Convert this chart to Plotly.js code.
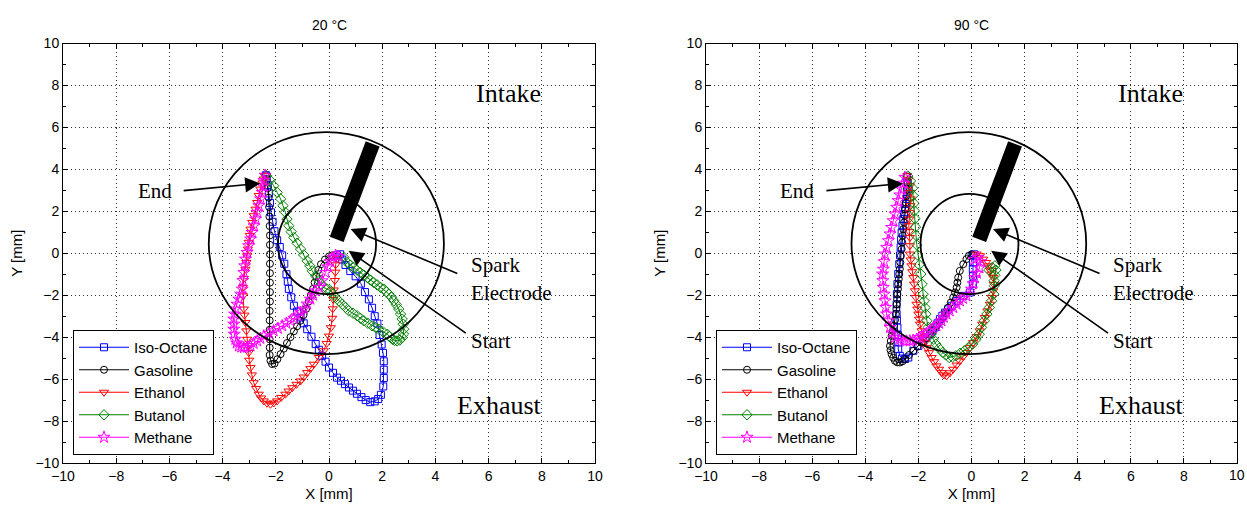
<!DOCTYPE html>
<html>
<head>
<meta charset="utf-8">
<script src="https://cdn.plot.ly/plotly-3.0.1.min.js"></script>
<style>html,body{margin:0;padding:0;background:#fff;overflow:hidden}#chart{width:1247px;height:505px}</style>
</head>
<body>
<div id="chart"></div>
<script>
// ---------- data ----------
const SERIES = ['Iso-Octane', 'Gasoline', 'Ethanol', 'Butanol', 'Methane'];
const PANEL_TITLES = ['20 °C', '90 °C'];
const TICKS = [-10, -8, -6, -4, -2, 0, 2, 4, 6, 8, 10];

// 20 °C panel (x, y in mm), start -> end
const L_ISO = [[0.30,-0.10],[0.42,-0.05],[0.50,-0.30],[0.62,-0.56],[0.80,-0.85],[1.00,-1.10],[1.20,-1.45],[1.35,-1.85],[1.50,-2.20],[1.62,-2.60],[1.72,-3.00],[1.82,-3.35],[1.90,-3.90],[1.98,-4.35],[2.03,-4.75],[2.06,-5.15],[2.06,-5.55],[2.06,-5.95],[2.04,-6.35],[1.95,-6.75],[1.85,-6.95],[1.72,-7.06],[1.55,-7.10],[1.38,-7.00],[1.22,-6.86],[1.05,-6.70],[0.90,-6.55],[0.75,-6.40],[0.60,-6.24],[0.45,-6.08],[0.30,-5.93],[0.15,-5.70],[0.00,-5.45],[-0.13,-5.17],[-0.26,-4.89],[-0.38,-4.60],[-0.50,-4.33],[-0.66,-3.98],[-0.82,-3.62],[-0.95,-3.34],[-1.07,-3.06],[-1.20,-2.78],[-1.32,-2.50],[-1.42,-2.10],[-1.51,-1.70],[-1.55,-1.35],[-1.60,-1.00],[-1.68,-0.50],[-1.76,-0.10],[-1.85,0.30],[-1.95,0.62],[-2.05,1.05],[-2.12,1.50],[-2.18,1.95],[-2.22,2.40],[-2.26,2.85],[-2.30,3.25],[-2.34,3.55],[-2.37,3.72]];
const L_GAS = [[0.12,-0.10],[0.00,-0.15],[-0.15,-0.30],[-0.30,-0.52],[-0.40,-0.80],[-0.48,-1.10],[-0.54,-1.40],[-0.60,-1.70],[-0.68,-2.00],[-0.76,-2.30],[-0.86,-2.65],[-0.96,-2.95],[-1.08,-3.22],[-1.20,-3.48],[-1.32,-3.72],[-1.45,-4.00],[-1.58,-4.28],[-1.70,-4.55],[-1.82,-4.81],[-1.94,-5.05],[-2.05,-5.26],[-2.14,-5.28],[-2.20,-5.12],[-2.23,-4.85],[-2.23,-4.50],[-2.23,-4.10],[-2.23,-3.65],[-2.23,-3.20],[-2.23,-2.75],[-2.22,-2.30],[-2.22,-1.85],[-2.22,-1.40],[-2.22,-0.95],[-2.22,-0.50],[-2.22,-0.05],[-2.22,0.40],[-2.22,0.85],[-2.23,1.30],[-2.24,1.75],[-2.25,2.20],[-2.27,2.65],[-2.30,3.10],[-2.34,3.45],[-2.37,3.72]];
const L_ETH = [[0.30,-0.25],[0.25,-0.55],[0.24,-0.90],[0.22,-1.30],[0.18,-1.75],[0.16,-2.20],[0.14,-2.65],[0.12,-3.10],[0.07,-3.55],[0.00,-3.95],[-0.09,-4.30],[-0.20,-4.65],[-0.38,-4.97],[-0.57,-5.29],[-0.70,-5.50],[-0.82,-5.69],[-0.95,-5.90],[-1.07,-6.09],[-1.22,-6.25],[-1.38,-6.41],[-1.52,-6.57],[-1.64,-6.72],[-1.80,-6.88],[-1.95,-7.04],[-2.08,-7.14],[-2.20,-7.20],[-2.33,-7.15],[-2.45,-7.04],[-2.55,-6.90],[-2.64,-6.72],[-2.74,-6.45],[-2.83,-6.17],[-2.90,-5.80],[-2.95,-5.45],[-3.00,-5.10],[-3.02,-4.73],[-3.05,-4.40],[-3.08,-4.10],[-3.11,-3.70],[-3.14,-3.30],[-3.18,-2.95],[-3.20,-2.66],[-3.23,-2.03],[-3.24,-1.63],[-3.20,-1.20],[-3.14,-0.76],[-3.11,-0.44],[-3.08,-0.12],[-3.05,0.20],[-3.02,0.52],[-2.98,0.85],[-2.95,1.15],[-2.89,1.47],[-2.83,1.79],[-2.76,2.10],[-2.70,2.42],[-2.64,2.75],[-2.58,3.06],[-2.50,3.35],[-2.45,3.54],[-2.40,3.70]];
const L_BUT = [[0.56,-0.20],[0.68,-0.44],[0.80,-0.56],[0.93,-0.68],[1.05,-0.80],[1.18,-0.92],[1.31,-1.04],[1.44,-1.16],[1.56,-1.28],[1.68,-1.39],[1.81,-1.51],[1.94,-1.63],[2.06,-1.71],[2.15,-1.83],[2.25,-1.95],[2.35,-2.10],[2.44,-2.27],[2.53,-2.45],[2.62,-2.66],[2.69,-2.90],[2.75,-3.14],[2.79,-3.38],[2.81,-3.62],[2.80,-3.85],[2.75,-4.02],[2.66,-4.14],[2.56,-4.18],[2.47,-4.16],[2.38,-4.10],[2.28,-3.98],[2.19,-3.86],[2.03,-3.74],[1.87,-3.62],[1.75,-3.54],[1.62,-3.46],[1.46,-3.34],[1.31,-3.22],[1.18,-3.10],[1.06,-2.98],[0.90,-2.86],[0.74,-2.74],[0.62,-2.58],[0.50,-2.43],[0.37,-2.27],[0.24,-2.11],[0.15,-1.95],[0.06,-1.79],[-0.07,-1.71],[-0.20,-1.63],[-0.29,-1.47],[-0.38,-1.31],[-0.50,-1.08],[-0.63,-0.84],[-0.72,-0.60],[-0.82,-0.36],[-0.95,-0.08],[-1.07,0.20],[-1.20,0.48],[-1.32,0.75],[-1.42,1.03],[-1.51,1.31],[-1.58,1.63],[-1.64,1.95],[-1.73,2.27],[-1.82,2.59],[-1.95,2.90],[-2.08,3.22],[-2.22,3.48],[-2.35,3.70]];
const L_MET = [[0.35,-0.15],[0.25,-0.10],[0.15,-0.20],[0.05,-0.40],[-0.05,-0.65],[-0.13,-0.92],[-0.26,-1.31],[-0.38,-1.63],[-0.51,-1.79],[-0.60,-2.00],[-0.70,-2.19],[-0.82,-2.42],[-0.95,-2.66],[-1.07,-2.82],[-1.20,-2.98],[-1.32,-3.10],[-1.45,-3.22],[-1.60,-3.34],[-1.76,-3.46],[-1.92,-3.58],[-2.08,-3.70],[-2.26,-3.82],[-2.45,-3.94],[-2.58,-4.06],[-2.70,-4.18],[-2.83,-4.30],[-2.95,-4.42],[-3.08,-4.48],[-3.20,-4.50],[-3.30,-4.47],[-3.39,-4.42],[-3.47,-4.28],[-3.52,-4.10],[-3.56,-3.86],[-3.58,-3.62],[-3.58,-3.38],[-3.58,-3.14],[-3.55,-2.90],[-3.52,-2.66],[-3.46,-2.43],[-3.39,-2.19],[-3.32,-1.95],[-3.26,-1.71],[-3.24,-1.30],[-3.20,-0.92],[-3.17,-0.60],[-3.14,-0.28],[-3.08,0.04],[-3.02,0.36],[-2.95,0.68],[-2.89,0.99],[-2.82,1.31],[-2.76,1.63],[-2.70,1.95],[-2.64,2.27],[-2.57,2.59],[-2.51,2.90],[-2.48,3.20],[-2.45,3.46],[-2.40,3.72]];

// 90 °C panel
const R_ISO = [[0.10,-0.05],[0.06,-0.12],[0.06,-0.44],[0.05,-0.76],[0.06,-1.07],[0.05,-1.47],[-0.06,-1.87],[-0.31,-2.03],[-0.56,-2.27],[-0.75,-2.51],[-0.88,-2.67],[-1.00,-2.83],[-1.10,-2.98],[-1.19,-3.14],[-1.28,-3.34],[-1.38,-3.54],[-1.48,-3.70],[-1.57,-3.86],[-1.70,-4.02],[-1.82,-4.18],[-2.00,-4.42],[-2.19,-4.65],[-2.38,-4.97],[-2.50,-5.04],[-2.62,-5.02],[-2.70,-4.89],[-2.76,-4.57],[-2.76,-4.25],[-2.77,-3.90],[-2.79,-3.54],[-2.81,-3.20],[-2.82,-2.90],[-2.82,-2.43],[-2.81,-1.95],[-2.79,-1.47],[-2.76,-0.99],[-2.72,-0.52],[-2.69,-0.10],[-2.67,0.28],[-2.65,0.64],[-2.63,0.99],[-2.60,1.31],[-2.57,1.63],[-2.54,1.87],[-2.51,2.11],[-2.47,2.35],[-2.44,2.59],[-2.41,2.83],[-2.38,3.06],[-2.40,3.35],[-2.43,3.65]];
const R_GAS = [[0.00,-0.05],[-0.10,-0.12],[-0.19,-0.28],[-0.31,-0.52],[-0.44,-0.84],[-0.50,-1.16],[-0.53,-1.40],[-0.56,-1.63],[-0.62,-1.87],[-0.69,-2.11],[-0.78,-2.35],[-0.88,-2.59],[-0.97,-2.83],[-1.06,-3.06],[-1.19,-3.26],[-1.32,-3.46],[-1.45,-3.66],[-1.57,-3.86],[-1.72,-4.06],[-1.88,-4.26],[-2.04,-4.46],[-2.19,-4.65],[-2.35,-4.85],[-2.51,-5.05],[-2.60,-5.15],[-2.70,-5.21],[-2.80,-5.20],[-2.88,-5.13],[-2.95,-4.98],[-3.01,-4.81],[-3.05,-4.62],[-3.07,-4.42],[-3.04,-4.18],[-3.01,-3.94],[-2.96,-3.70],[-2.92,-3.46],[-2.88,-3.18],[-2.85,-2.90],[-2.83,-2.66],[-2.82,-2.43],[-2.80,-2.19],[-2.79,-1.95],[-2.77,-1.71],[-2.76,-1.47],[-2.74,-1.23],[-2.72,-0.99],[-2.70,-0.76],[-2.68,-0.44],[-2.66,-0.12],[-2.63,0.20],[-2.61,0.52],[-2.59,0.84],[-2.57,1.15],[-2.54,1.47],[-2.51,1.79],[-2.49,2.10],[-2.47,2.42],[-2.45,2.74],[-2.44,3.06],[-2.43,3.38],[-2.43,3.65]];
const R_ETH = [[0.19,-0.04],[0.32,-0.12],[0.44,-0.28],[0.55,-0.44],[0.63,-0.60],[0.70,-0.80],[0.75,-0.99],[0.82,-1.16],[0.84,-1.48],[0.82,-1.79],[0.76,-2.11],[0.69,-2.43],[0.60,-2.75],[0.50,-3.06],[0.40,-3.38],[0.31,-3.70],[0.19,-3.98],[0.06,-4.26],[-0.06,-4.50],[-0.19,-4.73],[-0.31,-4.93],[-0.44,-5.13],[-0.56,-5.33],[-0.69,-5.53],[-0.81,-5.70],[-0.94,-5.85],[-1.04,-5.80],[-1.13,-5.69],[-1.22,-5.53],[-1.32,-5.37],[-1.41,-5.17],[-1.50,-4.97],[-1.60,-4.74],[-1.69,-4.50],[-1.76,-4.26],[-1.82,-4.02],[-1.88,-3.70],[-1.94,-3.38],[-1.97,-3.14],[-2.00,-2.90],[-2.04,-2.66],[-2.07,-2.43],[-2.10,-2.11],[-2.13,-1.79],[-2.16,-1.47],[-2.19,-1.16],[-2.23,-0.88],[-2.26,-0.60],[-2.29,-0.32],[-2.32,-0.04],[-2.32,0.36],[-2.32,0.75],[-2.34,1.03],[-2.36,1.31],[-2.34,1.63],[-2.32,1.95],[-2.30,2.27],[-2.29,2.59],[-2.30,2.90],[-2.32,3.22],[-2.38,3.50],[-2.42,3.70]];
const R_BUT = [[0.65,-0.80],[0.78,-0.68],[0.88,-0.60],[0.92,-0.80],[0.88,-1.05],[0.85,-1.31],[0.86,-1.55],[0.84,-1.95],[0.76,-2.27],[0.67,-2.59],[0.58,-2.90],[0.48,-3.22],[0.38,-3.54],[0.29,-3.86],[0.17,-4.10],[0.04,-4.33],[-0.12,-4.50],[-0.27,-4.65],[-0.43,-4.77],[-0.59,-4.89],[-0.72,-4.95],[-0.84,-4.97],[-0.97,-4.85],[-1.09,-4.73],[-1.22,-4.53],[-1.34,-4.33],[-1.44,-4.10],[-1.53,-3.86],[-1.63,-3.54],[-1.68,-3.22],[-1.72,-2.90],[-1.75,-2.59],[-1.78,-2.27],[-1.82,-1.95],[-1.86,-1.47],[-1.91,-0.99],[-1.97,-0.55],[-2.03,-0.08],[-2.06,0.40],[-2.09,0.85],[-2.11,1.25],[-2.13,1.65],[-2.15,2.02],[-2.17,2.38],[-2.20,2.75],[-2.22,3.10],[-2.30,3.45],[-2.40,3.68]];
const R_MET = [[0.10,-0.30],[0.25,-0.20],[0.35,-0.40],[0.30,-0.70],[0.20,-0.95],[0.12,-1.16],[0.06,-1.45],[0.00,-1.71],[-0.19,-2.03],[-0.32,-2.15],[-0.44,-2.27],[-0.56,-2.43],[-0.69,-2.59],[-0.82,-2.75],[-0.94,-2.90],[-1.04,-3.06],[-1.13,-3.22],[-1.22,-3.34],[-1.32,-3.46],[-1.45,-3.58],[-1.57,-3.70],[-1.70,-3.82],[-1.82,-3.94],[-1.95,-4.02],[-2.07,-4.10],[-2.20,-4.15],[-2.32,-4.18],[-2.45,-4.19],[-2.57,-4.18],[-2.72,-4.12],[-2.88,-4.02],[-2.98,-3.80],[-3.07,-3.54],[-3.14,-3.22],[-3.20,-2.90],[-3.23,-2.58],[-3.26,-2.27],[-3.29,-1.95],[-3.32,-1.63],[-3.34,-1.31],[-3.35,-0.99],[-3.32,-0.76],[-3.29,-0.40],[-3.26,-0.04],[-3.20,0.28],[-3.13,0.60],[-3.07,0.92],[-3.01,1.23],[-2.95,1.55],[-2.88,1.87],[-2.82,2.19],[-2.76,2.51],[-2.70,2.78],[-2.63,3.06],[-2.57,3.34],[-2.51,3.62]];

const LEFT_DATA = [L_ISO, L_GAS, L_ETH, L_BUT, L_MET];
const RIGHT_DATA = [R_ISO, R_GAS, R_ETH, R_BUT, R_MET];

// ---------- styles ----------
const COLORS = ['#0000ff', '#000000', '#ff0000', '#008000', '#ff00ff'];
const SYMBOLS = ['square-open', 'circle-open', 'triangle-down-open', 'diamond-open', 'star-open'];
const SIZES = [7, 7, 8, 8, 9];
const SANS = 'Liberation Sans, Arial, sans-serif';
const SERIF = 'Liberation Serif, Times New Roman, serif';

const traces = [];
[LEFT_DATA, RIGHT_DATA].forEach((panel, p) => {
  panel.forEach((pts, i) => {
    traces.push({
      type: 'scatter', mode: 'lines+markers', name: SERIES[i],
      x: pts.map(d => d[0]), y: pts.map(d => d[1]),
      xaxis: p === 0 ? 'x' : 'x2', yaxis: p === 0 ? 'y' : 'y2',
      legend: p === 0 ? 'legend' : 'legend2',
      line: {color: COLORS[i], width: 1},
      marker: {symbol: SYMBOLS[i], size: SIZES[i], color: COLORS[i], line: {color: COLORS[i], width: 1}}
    });
  });
});

function axis(domain, anchor) {
  return {
    domain: domain, anchor: anchor, range: [-10, 10], tickvals: TICKS,
    showline: true, linecolor: '#000', linewidth: 1, mirror: 'ticks',
    ticks: 'inside', ticklen: 5, tickcolor: '#000', tickwidth: 1,
    minor: {dtick: 1, tick0: 0, ticks: 'inside', ticklen: 3, tickcolor: '#000', showgrid: false},
    showgrid: true, gridcolor: '#333', gridwidth: 1, griddash: '1px,3px',
    zeroline: false, ticklabeloverflow: 'allow',
    tickfont: {family: SANS, size: 14, color: '#000'}
  };
}

const PW = 1240;
const XD = [[63/PW, 595/PW], [706/PW, 1237/PW]];
const YD = [1 - 463/505, 1 - 43.5/505];

// last label of the right x axis is drawn as an annotation so it is never culled at the page edge
const xaxis2 = Object.assign(axis(XD[1], 'y2'), {
  ticktext: TICKS.map(t => (t === TICKS[TICKS.length - 1] ? '' : String(t).replace('-', '\u2212'))),
  title: {text: 'X [mm]', font: {family: SANS, size: 15}, standoff: 5}
});

const layout = {
  width: 1247, height: 505, margin: {l: 0, r: 7, t: 0, b: 0},
  paper_bgcolor: '#fff', plot_bgcolor: '#fff', showlegend: true,
  font: {family: SANS, size: 14, color: '#000'},
  xaxis: Object.assign(axis(XD[0], 'y'), {title: {text: 'X [mm]', font: {family: SANS, size: 15}, standoff: 5}}),
  yaxis: Object.assign(axis(YD, 'x'), {title: {text: 'Y [mm]', font: {family: SANS, size: 15}, standoff: 9}}),
  xaxis2: xaxis2,
  yaxis2: Object.assign(axis(YD, 'x2'), {title: {text: 'Y [mm]', font: {family: SANS, size: 15}, standoff: 9}}),
  legend: {x: 73/PW, y: 1 - 330/505, xanchor: 'left', yanchor: 'top', bgcolor: '#fff', itemwidth: 50,
           bordercolor: '#000', borderwidth: 1, font: {family: SANS, size: 15}},
  legend2: {x: 716/PW, y: 1 - 330/505, xanchor: 'left', yanchor: 'top', bgcolor: '#fff', itemwidth: 50,
            bordercolor: '#000', borderwidth: 1, font: {family: SANS, size: 15}},
  shapes: [], annotations: []
};

// decorations (same geometry in both panels)
const ELECTRODE = 'M 0.03 0.79 L 0.55 0.54 L 1.90 5.09 L 1.38 5.34 Z';
[['x', 'y'], ['x2', 'y2']].forEach(([xr, yr], p) => {
  layout.shapes.push(
    {type: 'circle', xref: xr, yref: yr, x0: -4.52, x1: 4.32, y0: -4.81, y1: 5.77, line: {color: '#000', width: 1.8}},
    {type: 'circle', xref: xr, yref: yr, x0: -1.92, x1: 1.77, y0: -1.95, y1: 2.83, line: {color: '#000', width: 1.8}},
    {type: 'path', xref: xr, yref: yr, path: ELECTRODE, fillcolor: '#000', line: {color: '#000', width: 0}}
  );
  const arrow = (x, y, ax, ay) => ({xref: xr, yref: yr, axref: xr, ayref: yr, x: x, y: y, ax: ax, ay: ay,
    text: '', showarrow: true, arrowhead: 2, arrowsize: 1.9, arrowwidth: 1.6, arrowcolor: '#000'});
  const label = (txt, x, y, size, anchor) => ({xref: xr, yref: yr, x: x, y: y, text: txt, showarrow: false,
    xanchor: anchor, yanchor: 'middle', font: {family: SERIF, size: size, color: '#000'}});
  layout.annotations.push(
    arrow(-2.58, 3.33, -5.52, 2.98),
    arrow(0.81, 1.16, 4.88, -0.99),
    arrow(0.74, 0.12, 5.20, -3.86),
    label('End', -6.56, 2.95, 21, 'center'),
    label('Spark', 5.26, -0.55, 21, 'left'),
    label('Electrode', 5.26, -1.90, 21, 'left'),
    label('Start', 5.26, -4.20, 21, 'left'),
    label('Intake', 6.76, 7.6, 26, 'center'),
    label('Exhaust', 6.41, -7.28, 26, 'center')
  );
  layout.annotations.push({xref: 'paper', yref: 'paper', x: (XD[p][0] + XD[p][1]) / 2, y: 1 - 25/505,
    text: PANEL_TITLES[p], showarrow: false, xanchor: 'center', yanchor: 'middle',
    font: {family: SANS, size: 14, color: '#000'}});
});
layout.annotations.push({xref: 'x2', yref: 'paper', x: TICKS[TICKS.length - 1], y: 1 - 475/505,
  text: String(TICKS[TICKS.length - 1]), showarrow: false, xanchor: 'center', yanchor: 'middle',
  font: {family: SANS, size: 14, color: '#000'}});

Plotly.newPlot('chart', traces, layout, {staticPlot: true});
</script>
</body>
</html>
